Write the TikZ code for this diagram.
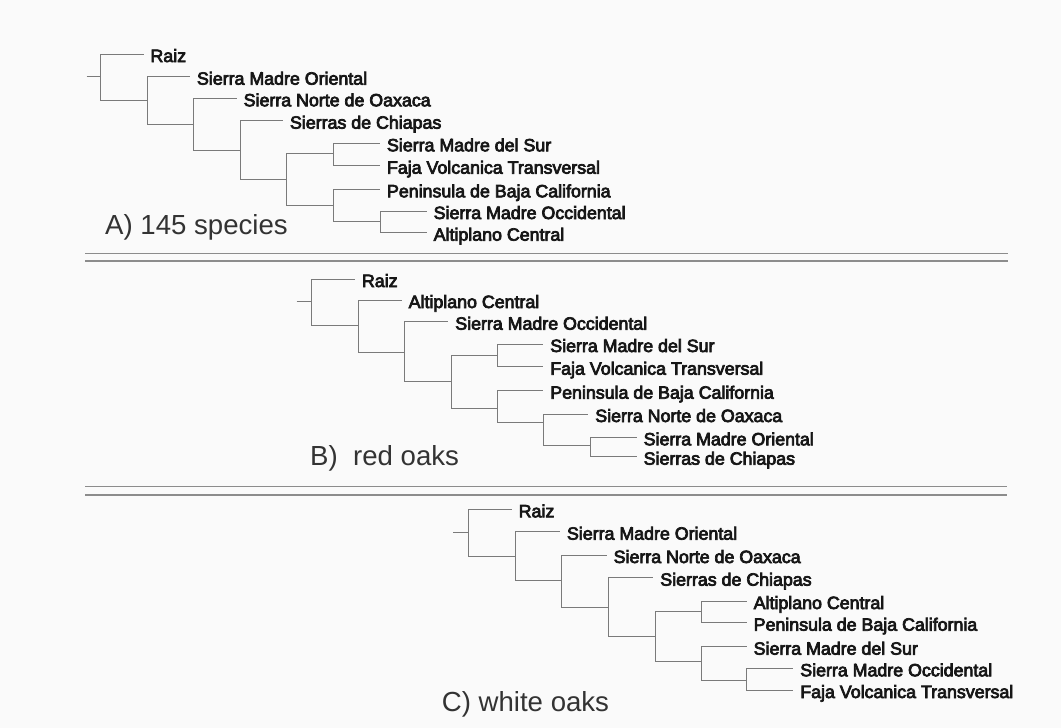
\documentclass[tikz,border=0pt]{standalone}
\usepackage{fontspec}
\setmainfont{Liberation Sans}
\newfontfamily\leaffont{Liberation Sans}[BoldFont={Liberation Sans}, BoldFeatures={FakeBold=4}]
\definecolor{branchgray}{HTML}{7A7A7A}
\definecolor{sepgray}{HTML}{8C8C8C}
\definecolor{leafink}{HTML}{161616}
\definecolor{titleink}{HTML}{333333}
\definecolor{paper}{HTML}{FAFAFA}
\tikzset{
  br/.style={draw=branchgray, line width=1pt},
  sepline/.style={draw=sepgray, line width=1.4pt},
  leaf/.style={anchor=west, inner sep=0pt, outer sep=0pt, text height=16pt, text depth=0pt,
    font=\leaffont\bfseries\fontsize{17.8}{18}\selectfont, text=leafink},
  paneltitle/.style={anchor=base west, inner sep=0pt, font=\fontsize{27.6}{30}\selectfont, text=titleink}
}
\newcommand{\lf}[1]{([xshift=-7pt]#1.west)}
\begin{document}
\begin{tikzpicture}[x=1pt,y=-1pt]
\fill[paper] (0,0) rectangle (1061,728);
\useasboundingbox (0,0) rectangle (1061,728);

% ---------- Tree A ----------
\coordinate (a0) at (86.7,76.7);
\coordinate (a1) at (100,76.7);
\coordinate (a2) at (147,100);
\coordinate (a3) at (193.3,124.3);
\coordinate (a4) at (240,150);
\coordinate (a5) at (286.7,179);
\coordinate (a6) at (333.3,153.3);
\coordinate (a7) at (333.3,205);
\coordinate (a8) at (380,221.7);
\node[leaf] (aRZ) at (150.5,54) {Raiz};
\node[leaf] (aSMO) at (197,76.7) {Sierra Madre Oriental};
\node[leaf] (aSNO) at (243.7,98.3) {Sierra Norte de Oaxaca};
\node[leaf] (aSDC) at (290,120.7) {Sierras de Chiapas};
\node[leaf] (aSMS) at (387,143.3) {Sierra Madre del Sur};
\node[leaf] (aFVT) at (387,165.7) {Faja Volcanica Transversal};
\node[leaf] (aPBC) at (387,189.3) {Peninsula de Baja California};
\node[leaf] (aSMC) at (433.7,211) {Sierra Madre Occidental};
\node[leaf] (aAC) at (433.7,232.7) {Altiplano Central};
\draw[br] (a0) -- (a1);
\draw[br] (a1) |- \lf{aRZ};
\draw[br] (a1) |- (a2);
\draw[br] (a2) |- \lf{aSMO};
\draw[br] (a2) |- (a3);
\draw[br] (a3) |- \lf{aSNO};
\draw[br] (a3) |- (a4);
\draw[br] (a4) |- \lf{aSDC};
\draw[br] (a4) |- (a5);
\draw[br] (a5) |- (a6);
\draw[br] (a5) |- (a7);
\draw[br] (a6) |- \lf{aSMS};
\draw[br] (a6) |- \lf{aFVT};
\draw[br] (a7) |- \lf{aPBC};
\draw[br] (a7) |- (a8);
\draw[br] (a8) |- \lf{aSMC};
\draw[br] (a8) |- \lf{aAC};
\node[paneltitle] (tA) at (105,234) {A) 145 species};

% ---------- separators ----------
\coordinate (s1l) at (85,253.3);  \coordinate (s1r) at (1008,253.3);
\coordinate (s2l) at (85,261);    \coordinate (s2r) at (1008,261);
\coordinate (s3l) at (85,486.7);  \coordinate (s3r) at (1007,486.7);
\coordinate (s4l) at (85,495);    \coordinate (s4r) at (1007,495);
\draw[sepline] (s1l) -- (s1r);
\draw[sepline, line width=1.1pt] (s2l) -- (s2r);
\draw[sepline] (s3l) -- (s3r);
\draw[sepline, line width=1.1pt] (s4l) -- (s4r);

% ---------- Tree B ----------
\coordinate (b0) at (296.7,301);
\coordinate (b1) at (311.7,301);
\coordinate (b2) at (358.3,325);
\coordinate (b3) at (404.3,352.3);
\coordinate (b4) at (451,381);
\coordinate (b5) at (497.3,355);
\coordinate (b6) at (497.3,408.3);
\coordinate (b7) at (543.3,422.7);
\coordinate (b8) at (590,445);
\node[leaf] (bRZ) at (362,279) {Raiz};
\node[leaf] (bAC) at (408.7,300) {Altiplano Central};
\node[leaf] (bSMC) at (455.3,321.7) {Sierra Madre Occidental};
\node[leaf] (bSMS) at (550.3,344) {Sierra Madre del Sur};
\node[leaf] (bFVT) at (550.3,366.7) {Faja Volcanica Transversal};
\node[leaf] (bPBC) at (550.3,390.7) {Peninsula de Baja California};
\node[leaf] (bSNO) at (595.3,414) {Sierra Norte de Oaxaca};
\node[leaf] (bSMO) at (643.7,437.3) {Sierra Madre Oriental};
\node[leaf] (bSDC) at (643.7,456.7) {Sierras de Chiapas};
\draw[br] (b0) -- (b1);
\draw[br] (b1) |- \lf{bRZ};
\draw[br] (b1) |- (b2);
\draw[br] (b2) |- \lf{bAC};
\draw[br] (b2) |- (b3);
\draw[br] (b3) |- \lf{bSMC};
\draw[br] (b3) |- (b4);
\draw[br] (b4) |- (b5);
\draw[br] (b4) |- (b6);
\draw[br] (b5) |- \lf{bSMS};
\draw[br] (b5) |- \lf{bFVT};
\draw[br] (b6) |- \lf{bPBC};
\draw[br] (b6) |- (b7);
\draw[br] (b7) |- \lf{bSNO};
\draw[br] (b7) |- (b8);
\draw[br] (b8) |- \lf{bSMO};
\draw[br] (b8) |- \lf{bSDC};
\node[paneltitle] (tB) at (310,465) {B)\ \ red oaks};

% ---------- Tree C ----------
\coordinate (c0) at (453.3,532.7);
\coordinate (c1) at (468.3,532.7);
\coordinate (c2) at (515,556.7);
\coordinate (c3) at (561.7,580.7);
\coordinate (c4) at (608.3,607.3);
\coordinate (c5) at (655,636.7);
\coordinate (c6) at (701.7,611.7);
\coordinate (c7) at (701.7,661.7);
\coordinate (c8) at (746.7,680);
\node[leaf] (cRZ) at (518.7,509.3) {Raiz};
\node[leaf] (cSMO) at (567,531.7) {Sierra Madre Oriental};
\node[leaf] (cSNO) at (613.7,555) {Sierra Norte de Oaxaca};
\node[leaf] (cSDC) at (660.3,577.7) {Sierras de Chiapas};
\node[leaf] (cAC) at (753.7,601) {Altiplano Central};
\node[leaf] (cPBC) at (753.7,622.7) {Peninsula de Baja California};
\node[leaf] (cSMS) at (753.7,646.7) {Sierra Madre del Sur};
\node[leaf] (cSMC) at (800.3,668.3) {Sierra Madre Occidental};
\node[leaf] (cFVT) at (800.3,690) {Faja Volcanica Transversal};
\draw[br] (c0) -- (c1);
\draw[br] (c1) |- \lf{cRZ};
\draw[br] (c1) |- (c2);
\draw[br] (c2) |- \lf{cSMO};
\draw[br] (c2) |- (c3);
\draw[br] (c3) |- \lf{cSNO};
\draw[br] (c3) |- (c4);
\draw[br] (c4) |- \lf{cSDC};
\draw[br] (c4) |- (c5);
\draw[br] (c5) |- (c6);
\draw[br] (c5) |- (c7);
\draw[br] (c6) |- \lf{cAC};
\draw[br] (c6) |- \lf{cPBC};
\draw[br] (c7) |- \lf{cSMS};
\draw[br] (c7) |- (c8);
\draw[br] (c8) |- \lf{cSMC};
\draw[br] (c8) |- \lf{cFVT};
\node[paneltitle] (tC) at (441.7,711.5) {C) white oaks};
\end{tikzpicture}
\end{document}
